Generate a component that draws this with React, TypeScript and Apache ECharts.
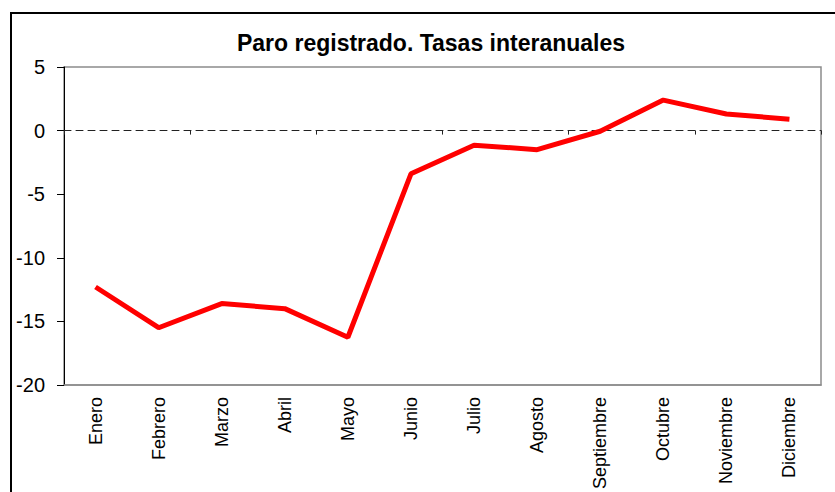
import React, { useEffect, useRef } from "react";
import * as echarts from "echarts";

const categories = ["Enero", "Febrero", "Marzo", "Abril", "Mayo", "Junio", "Julio", "Agosto", "Septiembre", "Octubre", "Noviembre", "Diciembre"];
const values = [-12.3, -15.5, -13.6, -14.0, -16.25, -3.4, -1.15, -1.5, -0.05, 2.4, 1.3, 0.9];
const titleText = "Paro registrado. Tasas interanuales";
const FONT = "'Liberation Sans', Arial, sans-serif";

export default function App() {
  const ref = useRef<HTMLDivElement>(null);
  useEffect(() => {
    if (!ref.current) return;
    const chart = echarts.init(ref.current, undefined, { renderer: "svg" });
    chart.setOption({
      animation: false,
      backgroundColor: "#ffffff",
      textStyle: { fontFamily: FONT },
      graphic: [
        {
          type: "rect",
          shape: { x: 11, y: 13, width: 900, height: 600 },
          style: { fill: "none", stroke: "#000", lineWidth: 2 },
          silent: true,
        },
        {
          type: "text",
          x: 431,
          y: 43,
          style: {
            text: titleText,
            fontFamily: FONT,
            fontSize: 23,
            fontWeight: "bold",
            fill: "#000",
            align: "center",
            verticalAlign: "middle",
          },
        },
      ],
      grid: {
        left: 64,
        top: 67,
        right: 14,
        bottom: 104.5,
        show: true,
        borderColor: "#8c8c8c",
        borderWidth: 1.5,
        backgroundColor: "transparent",
      },
      xAxis: [
        {
          type: "category",
          data: categories,
          boundaryGap: true,
          axisLine: { onZero: true, lineStyle: { color: "#222", type: [7, 5], width: 1 } },
          axisTick: { show: true, length: 4, lineStyle: { color: "#222" } },
          axisLabel: { show: false },
          splitLine: { show: false },
          z: 5,
        },
        {
          type: "category",
          data: categories,
          position: "bottom",
          boundaryGap: true,
          axisLine: { show: true, onZero: false, lineStyle: { color: "#8c8c8c", width: 1.5 } },
          axisTick: { show: false },
          axisLabel: { rotate: 90, fontSize: 18, color: "#000", margin: 12, fontFamily: FONT, interval: 0 },
          splitLine: { show: false },
        },
      ],
      yAxis: {
        type: "value",
        min: -20,
        max: 5,
        interval: 5,
        axisLine: { show: true, lineStyle: { color: "#000", width: 1 } },
        axisTick: { show: true, length: 7, lineStyle: { color: "#000" } },
        axisLabel: { fontSize: 20, color: "#000", margin: 19, fontFamily: FONT },
        splitLine: { show: false },
      },
      series: [
        {
          type: "line",
          xAxisIndex: 0,
          data: values,
          showSymbol: false,
          symbol: "none",
          lineStyle: { color: "#ff0000", width: 5 },
          z: 10,
        },
      ],
    });
    return () => chart.dispose();
  }, []);
  return <div ref={ref} style={{ position: "absolute", left: 0, top: 0, width: 835, height: 492 }} />;
}
